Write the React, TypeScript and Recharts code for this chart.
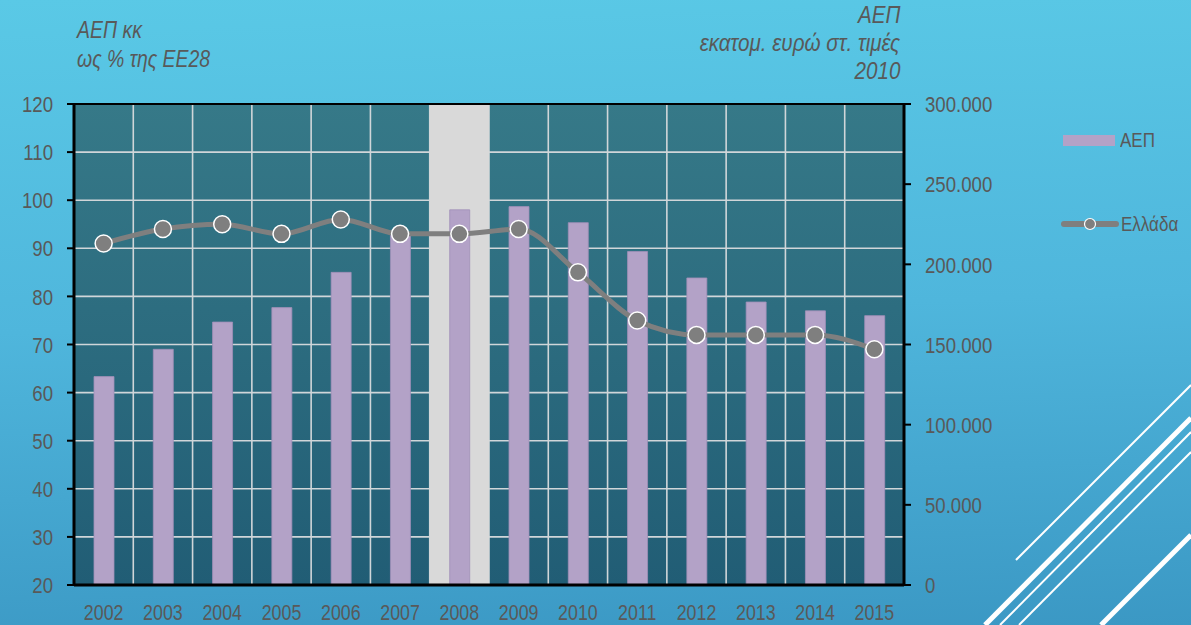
import { Bar, CartesianGrid, ComposedChart, Line, ReferenceArea, ReferenceLine, XAxis, YAxis } from "recharts";

const years = ["2002", "2003", "2004", "2005", "2006", "2007", "2008", "2009", "2010", "2011", "2012", "2013", "2014", "2015"];
// ΑΕΠ, εκατομ. ευρώ σταθερές τιμές 2010 (right axis)
const gdp = [130000, 147000, 164000, 173000, 195000, 219000, 234000, 236000, 226000, 208000, 191500, 176500, 171000, 168000];
// ΑΕΠ κκ ως % της ΕΕ28 (left axis)
const greece = [91, 94, 95, 93, 96, 93, 93, 94, 85, 75, 72, 72, 72, 69];

const leftTicks = [20, 30, 40, 50, 60, 70, 80, 90, 100, 110, 120];
const rightTicks = [0, 50000, 100000, 150000, 200000, 250000, 300000];

const data = years.map((year, i) => ({ year, gdp: gdp[i], greece: greece[i] }));

// no Arial Narrow here, so squeeze Liberation Sans horizontally
const font = "'Liberation Sans', Arial, sans-serif";
const squeeze = 0.81;
const textColor = "#595959";

const theme = {
  bar: "#b3a2c7",
  barEdge: "#a08fb8",
  line: "#7f7f7f",
  grid: "#d0d6d9",
  highlight: "#d9d9d9",
  axis: "#000000",
};

const fmtThousands = (v: number) => v.toLocaleString("de-DE");

function NarrowTick(props: any) {
  const { x, y, payload, textAnchor, fmt, size, dy } = props;
  return (
    <g transform={`translate(${x},${y})`}>
      <text
        transform={`scale(${squeeze},1)`}
        textAnchor={textAnchor}
        dy={dy}
        fill={textColor}
        fontSize={size}
        fontFamily={font}
      >
        {fmt ? fmt(payload.value) : payload.value}
      </text>
    </g>
  );
}

const squeezed = (origin: string, k = squeeze) => ({
  display: "inline-block",
  transform: `scaleX(${k})`,
  transformOrigin: origin,
  whiteSpace: "nowrap" as const,
});

export default function App() {
  return (
    <div
      style={{
        position: "fixed",
        left: 0,
        top: 0,
        width: 1191,
        height: 625,
        overflow: "hidden",
        background: "linear-gradient(178deg, #5ac9e6 0%, #4fb6dc 50%, #3b98c4 100%)",
        fontFamily: font,
      }}
    >
      <svg width={1191} height={625} style={{ position: "absolute", left: 0, top: 0 }}>
        <line x1={1016} y1={560} x2={1191} y2={385} stroke="#fff" strokeWidth={2} />
        <line x1={985} y1={625} x2={1191} y2={418} stroke="#fff" strokeWidth={5} />
        <line x1={1000} y1={625} x2={1191} y2={432} stroke="#fff" strokeWidth={2} />
        <line x1={1019} y1={625} x2={1191} y2={452} stroke="#fff" strokeWidth={2} />
        <line x1={1101} y1={625} x2={1191} y2={535} stroke="#fff" strokeWidth={5} />
      </svg>

      <div style={{ position: "absolute", left: 77, top: 15, fontSize: 24, fontStyle: "italic", color: textColor, lineHeight: "29px" }}>
        <span style={squeezed("left")}>ΑΕΠ κκ</span>
        <br />
        <span style={squeezed("left")}>ως % της ΕΕ28</span>
      </div>
      <div
        style={{ position: "absolute", right: 1191 - 900, top: 1, fontSize: 24, fontStyle: "italic", color: textColor, lineHeight: "28px", textAlign: "right" }}
      >
        <span style={squeezed("right", 0.86)}>ΑΕΠ</span>
        <br />
        <span style={squeezed("right", 0.86)}>εκατομ. ευρώ στ. τιμές</span>
        <br />
        <span style={squeezed("right", 0.86)}>2010</span>
      </div>

      <div style={{ position: "absolute", left: 0, top: 0 }}>
        <ComposedChart width={1191} height={625} data={data} margin={{ top: 104, right: 187, bottom: 0, left: 0 }} barCategoryGap={0}>
          <defs>
            <linearGradient id="plotBg" x1="0" y1="0" x2="0" y2="1">
              <stop offset="0%" stopColor="#367988" />
              <stop offset="100%" stopColor="#215d75" />
            </linearGradient>
          </defs>
          <CartesianGrid
            yAxisId="left"
            fill="url(#plotBg)"
            fillOpacity={1}
            stroke={theme.grid}
            strokeWidth={1.6}
            verticalCoordinatesGenerator={({ offset }: any) =>
              years.slice(1).map((_, i) => offset.left + ((i + 1) * offset.width) / years.length)
            }
          />
          <XAxis
            dataKey="year"
            height={40}
            tick={<NarrowTick size={22} dy="0.71em" />}
            tickLine={false}
            tickMargin={13}
            axisLine={{ stroke: theme.axis, strokeWidth: 3 }}
          />
          <YAxis
            yAxisId="left"
            orientation="left"
            width={74}
            domain={[20, 120]}
            ticks={leftTicks}
            interval={0}
            tick={<NarrowTick size={23} dy="0.355em" />}
            tickSize={7}
            tickMargin={14}
            tickLine={{ stroke: theme.axis, strokeWidth: 2 }}
            axisLine={{ stroke: theme.axis, strokeWidth: 3 }}
          />
          <YAxis
            yAxisId="right"
            orientation="right"
            width={100}
            domain={[0, 300000]}
            ticks={rightTicks}
            interval={0}
            tick={<NarrowTick size={23} dy="0.355em" fmt={fmtThousands} />}
            tickSize={7}
            tickMargin={14}
            tickLine={{ stroke: theme.axis, strokeWidth: 2 }}
            axisLine={{ stroke: theme.axis, strokeWidth: 3 }}
          />
          <ReferenceArea yAxisId="left" x1="2008" x2="2008" fill={theme.highlight} fillOpacity={1} stroke="none" ifOverflow="visible" />
          <ReferenceLine yAxisId="left" y={120} stroke={theme.axis} strokeWidth={2} />
          <Bar
            yAxisId="right"
            dataKey="gdp"
            name="ΑΕΠ"
            fill={theme.bar}
            stroke={theme.barEdge}
            strokeWidth={0.8}
            barSize={20}
            isAnimationActive={false}
          />
          <Line
            yAxisId="left"
            dataKey="greece"
            name="Ελλάδα"
            type="monotone"
            stroke={theme.line}
            strokeWidth={5}
            dot={{ r: 8.5, fill: theme.line, stroke: "#ffffff", strokeWidth: 1.5 }}
            activeDot={false}
            isAnimationActive={false}
          />
        </ComposedChart>
      </div>

      <div style={{ position: "absolute", left: 1063, top: 128, display: "flex", alignItems: "center", fontSize: 21, color: textColor }}>
        <div style={{ width: 52, height: 11, background: theme.bar, marginRight: 5 }} />
        <span style={squeezed("left")}>ΑΕΠ</span>
      </div>
      <div style={{ position: "absolute", left: 1061, top: 212, display: "flex", alignItems: "center", fontSize: 21, color: textColor }}>
        <svg width={58} height={16} style={{ marginRight: 2 }}>
          <line x1={3} y1={8} x2={55} y2={8} stroke={theme.line} strokeWidth={6} strokeLinecap="round" />
          <circle cx={29} cy={8} r={5.5} fill={theme.line} stroke="#ffffff" strokeWidth={1.2} />
        </svg>
        <span style={squeezed("left")}>Ελλάδα</span>
      </div>
    </div>
  );
}
